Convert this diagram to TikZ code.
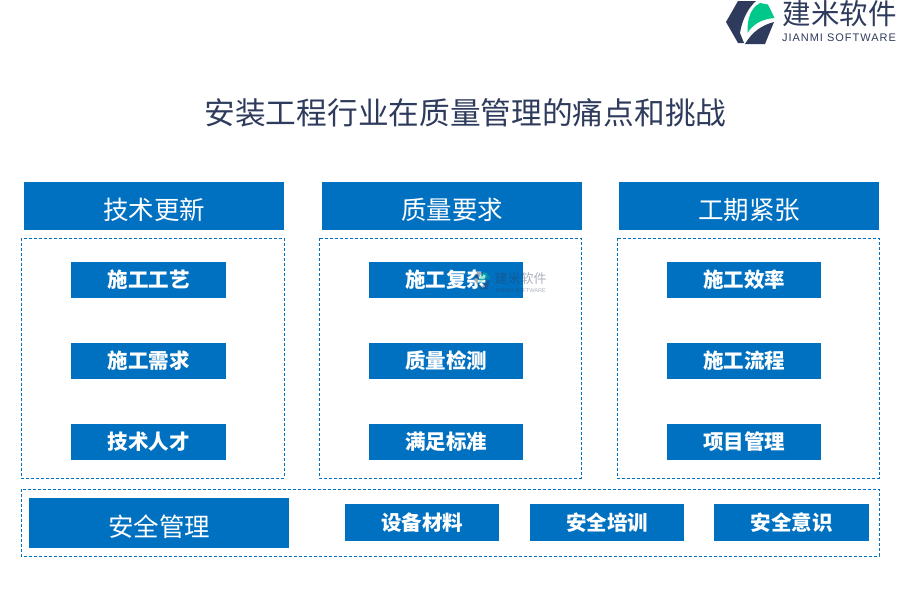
\documentclass[tikz,border=0pt]{standalone}
\usepackage{fontspec}
\setmainfont{Noto Sans CJK SC}
\newfontfamily\latinfont{Liberation Sans}
\usepackage{xcolor}
\definecolor{bleu}{HTML}{0070C0}
\definecolor{marine}{HTML}{2F3B5C}
\definecolor{vert}{HTML}{00C88A}
\usepackage{tikz}
\begin{document}
\begin{tikzpicture}[
    x=1pt, y=-1pt,
    header/.style={
        fill=bleu, text=white,
        minimum width=260pt, minimum height=48pt,
        inner sep=0pt, text height=27pt, text depth=0pt,
        font=\fontsize{25.5}{26}\selectfont
    },
    item/.style={
        fill=bleu, text=white,
        minimum width=154.5pt, minimum height=36pt,
        inner sep=0pt,
        font=\fontsize{20.5}{22}\selectfont\bfseries
    },
    zone/.style={draw=bleu, line width=0.9pt, dash pattern=on 3pt off 2pt}
]
\useasboundingbox (0,0) rectangle (900,600);

% logo
\fill[marine] (738,1) -- (756,1) .. controls (748,8) and (742,20) .. (740,33) -- (744,43) -- (738,43) -- (726,22) -- cycle;
\fill[marine] (745,44) -- (765,44) -- (774,22) .. controls (762,25) and (752,32) .. cycle;
\fill[vert] (747.5,33) .. controls (747,18) and (751,8) .. (760,3) -- (768,4.5) -- (774.5,18) .. controls (762,19) and (753,24) .. cycle;
\node[text=marine, font=\fontsize{28.5}{30}\selectfont] (logoname) at (839.5,14) {建米软件};
\node[text=marine, font=\fontsize{11}{12}\selectfont\latinfont\addfontfeature{LetterSpace=9}] (logosub) at (839,38) {JIANMI SOFTWARE};

\node[text=marine, font=\fontsize{30.7}{32}\selectfont] (title) at (465.5,113) {安装工程行业在质量管理的痛点和挑战};

\node[header] (tech) at (154,206) {技术更新};
\node[header] (quality) at (452,206) {质量要求};
\node[header] (period) at (749,206) {工期紧张};

\draw[zone] (21,238) rectangle (284,478);
\draw[zone] (319,238) rectangle (581,478);
\draw[zone] (617,238) rectangle (879,478);
\draw[zone] (21,489) rectangle (879,556);

\node[item] (craft) at (148.5,280) {施工工艺};
\node[item] (need) at (148.5,361) {施工需求};
\node[item] (talent) at (148.5,442) {技术人才};

\node[item] (complex) at (446,280) {施工复杂};
\node[item] (check) at (446,361) {质量检测};
\node[item] (norm) at (446,442) {满足标准};

\node[item] (rate) at (744,280) {施工效率};
\node[item] (flow) at (744,361) {施工流程};
\node[item] (project) at (744,442) {项目管理};

\node[header, minimum height=50pt] (safety) at (159,523) {安全管理};
\node[item, minimum height=37pt] (material) at (422,522.5) {设备材料};
\node[item, minimum height=37pt] (train) at (607,522.5) {安全培训};
\node[item, minimum height=37pt] (aware) at (791.5,522.5) {安全意识};

% watermark
\begin{scope}[opacity=0.4]
\fill[marine] (477,272) -- (483,272) .. controls (479,276) and (478,280) .. (478,283) -- (480,288) -- (474,280) -- cycle;
\fill[marine] (480,289) -- (487,289) -- (490,280) .. controls (486,282) and (483,284) .. cycle;
\fill[vert] (479,284) .. controls (479,278) and (481,274) .. (484,272) -- (487,273) -- (490,278) .. controls (486,278) and (482,281) .. cycle;
\node[text=marine, font=\fontsize{13}{14}\selectfont] (markname) at (520.5,279) {建米软件};
\node[text=marine, font=\fontsize{5.5}{6}\selectfont\latinfont] (marksub) at (520.5,291) {JIANMI SOFTWARE};
\end{scope}
\end{tikzpicture}
\end{document}
